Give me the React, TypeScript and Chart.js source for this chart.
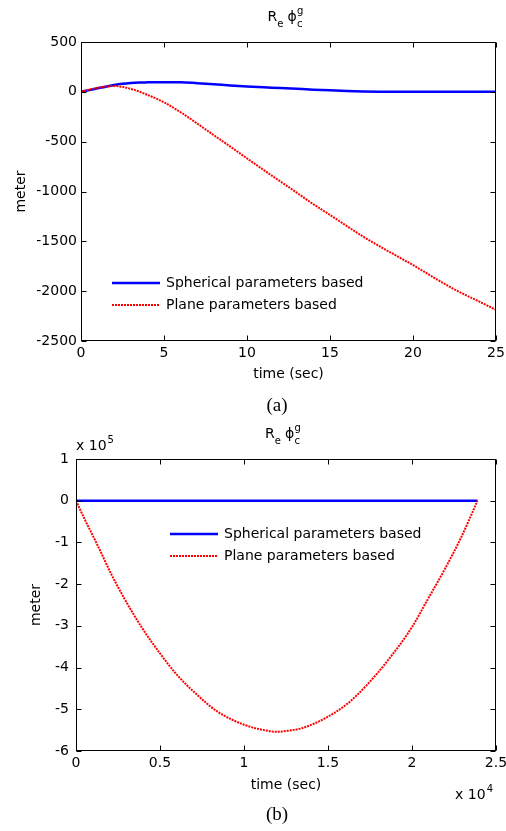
import React, { useEffect, useRef } from "react";
import { Chart, registerables } from "chart.js";

Chart.register(...registerables);

const FONT = "'DejaVu Sans', sans-serif";

// ---------- Panel (a) ----------
const timeA = [0, 0.5, 1, 1.5, 2, 2.5, 3, 3.5, 4, 4.5, 5, 6, 7, 8, 9, 10, 11, 12, 13, 14, 15, 16, 17, 18, 19, 20, 21, 22, 23, 24, 25];
const sphericalA = [0, 17, 35, 52, 68, 80, 88, 93, 95, 96, 96, 96, 87, 76, 63, 53, 45, 38, 30, 22, 15, 9, 4, 1, 0, 0, 0, 0, 0, 0, 0];
const planeA = [0, 22, 40, 53, 58, 50, 30, 3, -30, -65, -105, -205, -318, -435, -550, -668, -784, -898, -1012, -1128, -1235, -1345, -1453, -1550, -1645, -1738, -1838, -1937, -2025, -2105, -2188];
const xTicksA = [0, 5, 10, 15, 20, 25];
const yTicksA = [500, 0, -500, -1000, -1500, -2000, -2500];

// ---------- Panel (b) ----------
const timeB = [0, 500, 1300, 2100, 2900, 3900, 5000, 6000, 7200, 8400, 10000, 11200, 12000, 12700, 13400, 14900, 16200, 17400, 18500, 20000, 20900, 21900, 22900, 23900];
const sphericalB = [0, 0, 0, 0, 0, 0, 0, 0, 0, 0, 0, 0, 0, 0, 0, 0, 0, 0, 0, 0, 0, 0, 0, 0];
const planeB = [0, -43000, -108000, -176000, -236000, -303000, -366000, -417000, -465000, -505000, -537000, -550000, -554000, -551000, -546000, -520000, -485000, -438000, -386000, -303000, -239000, -168000, -90000, 0];
const xTicksB = [0, 5000, 10000, 15000, 20000, 25000];
const yTicksB = [100000, 0, -100000, -200000, -300000, -400000, -500000, -600000];

const seriesNames = ["Spherical parameters based", "Plane parameters based"];
const titleParts = { main: "R", sub1: "e", sym: "\u03D5", sup: "g", sub2: "c" };

const decorPlugin = {
  id: "decor",
  afterDraw(chart: any, _args: any, opts: any) {
    const { ctx, chartArea: ca, scales } = chart;
    const big = `14px ${FONT}`;
    const small = `10px ${FONT}`;
    ctx.save();
    // box
    ctx.strokeStyle = "#000";
    ctx.lineWidth = 1;
    ctx.setLineDash([]);
    const L = Math.round(ca.left) + 0.5;
    const R = Math.round(ca.right) - 0.5;
    const T = Math.round(ca.top) + 0.5;
    const B = Math.round(ca.bottom) - 0.5;
    ctx.strokeRect(L, T, R - L, B - T);
    // inward ticks
    const tl = 5;
    ctx.beginPath();
    scales.x.ticks.forEach((t: any) => {
      const px = Math.round(scales.x.getPixelForValue(t.value)) + 0.5;
      ctx.moveTo(px, B);
      ctx.lineTo(px, B - tl);
      ctx.moveTo(px, T);
      ctx.lineTo(px, T + tl);
    });
    scales.y.ticks.forEach((t: any) => {
      const py = Math.round(scales.y.getPixelForValue(t.value)) + 0.5;
      ctx.moveTo(L, py);
      ctx.lineTo(L + tl, py);
      ctx.moveTo(R, py);
      ctx.lineTo(R - tl, py);
    });
    ctx.stroke();

    // title R_e phi_c^g
    ctx.fillStyle = "#000";
    ctx.textAlign = "left";
    ctx.textBaseline = "alphabetic";
    const cx = (ca.left + ca.right) / 2;
    const by = ca.top + opts.titleDy;
    let x = cx - 21;
    ctx.font = big;
    ctx.fillText(titleParts.main, x, by);
    x += ctx.measureText(titleParts.main).width;
    ctx.font = small;
    ctx.fillText(titleParts.sub1, x, by + 6);
    x += ctx.measureText(titleParts.sub1).width + 4;
    ctx.font = big;
    ctx.fillText(titleParts.sym, x, by);
    x += ctx.measureText(titleParts.sym).width + 0.5;
    ctx.font = small;
    ctx.fillText(titleParts.sup, x, by - 7);
    ctx.fillText(titleParts.sub2, x, by + 6);

    // exponent labels
    if (opts.yExp) {
      ctx.font = big;
      const base = "x 10";
      const yx = ca.left;
      const yb = ca.top - 9;
      ctx.fillText(base, yx, yb);
      const w = ctx.measureText(base).width;
      ctx.font = small;
      ctx.fillText(opts.yExp, yx + w + 1, yb - 7);
    }
    if (opts.xExp) {
      ctx.font = small;
      const we = ctx.measureText(opts.xExp).width;
      ctx.font = big;
      const base = "x 10";
      const wb = ctx.measureText(base).width;
      const right = ca.right - 3;
      const xb = ca.bottom + 48;
      ctx.fillText(base, right - we - 1 - wb, xb);
      ctx.font = small;
      ctx.fillText(opts.xExp, right - we, xb - 7);
    }

    // legend (inside axes, no box)
    const lx = ca.left + opts.legendDx;
    let ly = ca.top + opts.legendDy;
    chart.data.datasets.forEach((ds: any) => {
      ctx.strokeStyle = ds.borderColor;
      ctx.lineWidth = ds.borderWidth;
      ctx.setLineDash(ds.borderDash || []);
      ctx.beginPath();
      ctx.moveTo(lx, ly);
      ctx.lineTo(lx + 48, ly);
      ctx.stroke();
      ctx.setLineDash([]);
      ctx.font = big;
      ctx.fillStyle = "#000";
      ctx.textBaseline = "middle";
      ctx.fillText(ds.label, lx + 54, ly);
      ly += 22;
    });
    ctx.restore();
  },
};

function makeConfig(p: any) {
  const tickFont = { size: 14, family: FONT };
  return {
    type: "line",
    data: {
      datasets: [
        {
          label: seriesNames[0],
          data: p.time.map((t: number, i: number) => ({ x: t, y: p.spherical[i] })),
          borderColor: "#0000ff",
          borderWidth: 2.5,
          pointRadius: 0,
          cubicInterpolationMode: "monotone",
          order: 1,
        },
        {
          label: seriesNames[1],
          data: p.time.map((t: number, i: number) => ({ x: t, y: p.plane[i] })),
          borderColor: "#ff0000",
          borderWidth: 2,
          borderDash: [2, 1],
          pointRadius: 0,
          cubicInterpolationMode: "monotone",
          order: 0,
        },
      ],
    },
    options: {
      responsive: false,
      animation: false,
      events: [],
      layout: { padding: { top: p.padTop, right: 10, left: 0, bottom: 0 } },
      plugins: {
        legend: { display: false },
        title: { display: false },
        tooltip: { enabled: false },
        decor: p.decor,
      },
      scales: {
        x: {
          type: "linear",
          min: p.xMin,
          max: p.xMax,
          afterBuildTicks: (s: any) => {
            s.ticks = p.xTicks.map((v: number) => ({ value: v }));
          },
          afterFit: (s: any) => {
            s.height = p.xAxisH;
            s.paddingLeft = 0;
            s.paddingRight = 0;
          },
          grid: { display: false, drawTicks: false },
          border: { display: false },
          ticks: {
            padding: 4,
            color: "#000",
            font: tickFont,
            autoSkip: false,
            maxRotation: 0,
            callback: (v: number) => String(v / p.xScale),
          },
          title: {
            display: true,
            text: "time (sec)",
            color: "#000",
            font: tickFont,
            padding: { top: 0, bottom: 37 },
          },
        },
        y: {
          type: "linear",
          min: p.yMin,
          max: p.yMax,
          afterBuildTicks: (s: any) => {
            s.ticks = p.yTicks.map((v: number) => ({ value: v }));
          },
          afterFit: (s: any) => {
            s.width = p.yAxisW;
            s.paddingTop = 0;
            s.paddingBottom = 0;
          },
          grid: { display: false, drawTicks: false },
          border: { display: false },
          ticks: {
            padding: p.yTickPad,
            color: "#000",
            font: tickFont,
            autoSkip: false,
            callback: (v: number) => String(v / p.yScale),
          },
          title: {
            display: true,
            text: "meter",
            color: "#000",
            font: tickFont,
            padding: { top: p.yTitlePad, bottom: 0 },
          },
        },
      },
    },
    plugins: [decorPlugin],
  };
}

function Panel(props: { cfg: any; top: number; height: number }) {
  const ref = useRef<HTMLCanvasElement | null>(null);
  useEffect(() => {
    if (!ref.current) return;
    const chart = new Chart(ref.current, props.cfg);
    return () => chart.destroy();
  }, []);
  return (
    <canvas
      ref={ref}
      width={506}
      height={props.height}
      style={{ position: "absolute", left: 0, top: props.top, width: 506, height: props.height, display: "block" }}
    />
  );
}

const cfgA = makeConfig({
  time: timeA,
  spherical: sphericalA,
  plane: planeA,
  xMin: 0,
  xMax: 25,
  yMin: -2500,
  yMax: 500,
  xTicks: xTicksA,
  yTicks: yTicksA,
  xScale: 1,
  yScale: 1,
  padTop: 42,
  xAxisH: 79,
  yAxisW: 81,
  yTickPad: 4,
  yTitlePad: 13,
  decor: { titleDy: -21, legendDx: 31, legendDy: 241, yExp: null, xExp: null },
});

const cfgB = makeConfig({
  time: timeB,
  spherical: sphericalB,
  plane: planeB,
  xMin: 0,
  xMax: 25000,
  yMin: -600000,
  yMax: 100000,
  xTicks: xTicksB,
  yTicks: yTicksB,
  xScale: 10000,
  yScale: 100000,
  padTop: 39,
  xAxisH: 80,
  yAxisW: 76,
  yTickPad: 7,
  yTitlePad: 28,
  decor: { titleDy: -21, legendDx: 94, legendDy: 75, yExp: "5", xExp: "4" },
});

const capStyle: any = {
  position: "absolute",
  left: 0,
  width: 554,
  textAlign: "center",
  fontFamily: "'Liberation Serif', 'Times New Roman', serif",
  fontSize: 19,
  lineHeight: "20px",
  color: "#000",
};

export default function App() {
  return (
    <div style={{ position: "absolute", left: 0, top: 0, width: 506, height: 831, background: "#fff", overflow: "hidden" }}>
      <Panel cfg={cfgA} top={0} height={420} />
      <div style={{ ...capStyle, top: 395 }}>(a)</div>
      <Panel cfg={cfgB} top={420} height={411} />
      <div style={{ ...capStyle, top: 804 }}>(b)</div>
    </div>
  );
}
